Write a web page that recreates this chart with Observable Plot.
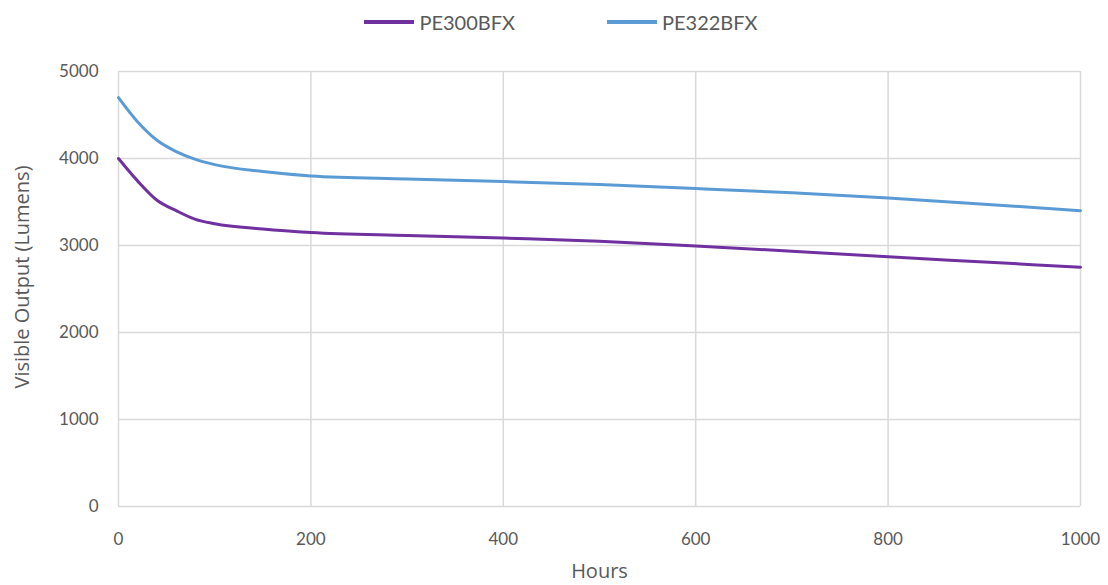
<!DOCTYPE html>
<html>
<head>
<meta charset="utf-8">
<script src="https://cdn.jsdelivr.net/npm/d3@7"></script>
<script src="https://cdn.jsdelivr.net/npm/@observablehq/plot@0.6"></script>
<style>
  html, body { margin: 0; padding: 0; background: #fff; }
  body { width: 1108px; height: 585px; overflow: hidden; font-family: Lato, "Open Sans", sans-serif; }
  #legend { height: 44px; display: flex; justify-content: center; align-items: center; color: #595959; font-size: 20px; padding-left: 14px; box-sizing: border-box; }
  .item { display: flex; align-items: center; margin: 0 46px; }
  .swatch { width: 50px; height: 4px; margin-right: 5px; }
  g[aria-label="x-axis label"] text, g[aria-label="y-axis label"] text { font-size: 20px; font-family: "Open Sans", sans-serif; }
</style>
</head>
<body>
<div id="legend"></div>
<div id="chart"></div>
<script>
const seriesNames = ["PE300BFX", "PE322BFX"];
const seriesColors = ["#7030a0", "#5b9bd5"];
const hours = [0, 20, 40, 60, 80, 100, 150, 200, 300, 400, 500, 600, 700, 800, 900, 1000];
const pe300 = [4000, 3740, 3520, 3400, 3300, 3250, 3190, 3150, 3115, 3085, 3050, 2995, 2935, 2870, 2810, 2750];
const pe322 = [4700, 4420, 4210, 4080, 3990, 3930, 3850, 3800, 3765, 3735, 3700, 3655, 3605, 3545, 3475, 3400];
const xTicks = [0, 200, 400, 600, 800, 1000];
const yTicks = [0, 1000, 2000, 3000, 4000, 5000];

const data = [];
hours.forEach((h, i) => {
  data.push({hours: h, value: pe300[i], series: seriesNames[0]});
  data.push({hours: h, value: pe322[i], series: seriesNames[1]});
});

const legend = document.getElementById("legend");
seriesNames.forEach((n, i) => {
  const it = document.createElement("div");
  it.className = "item";
  it.innerHTML = `<span class="swatch" style="background:${seriesColors[i]}"></span><span>${n}</span>`;
  legend.appendChild(it);
});

const fmt = d => String(d);

const chart = Plot.plot({
  width: 1108,
  height: 541,
  marginTop: 27,
  marginBottom: 79,
  marginLeft: 118,
  marginRight: 28,
  style: {fontFamily: "Lato, 'Open Sans', sans-serif", fontSize: "17px", color: "#595959", background: "#fff"},
  x: {domain: [0, 1000]},
  y: {domain: [0, 5000]},
  color: {domain: seriesNames, range: seriesColors},
  marks: [
    Plot.gridX(xTicks, {stroke: "#d9d9d9", strokeOpacity: 1, strokeWidth: 1.5}),
    Plot.gridY(yTicks, {stroke: "#d9d9d9", strokeOpacity: 1, strokeWidth: 1.5}),
    Plot.axisX(xTicks, {tickSize: 0, tickPadding: 26, fontSize: 17, fill: "#595959", tickFormat: fmt, label: "Hours", labelAnchor: "center", labelArrow: "none", labelOffset: 71}),
    Plot.axisY(yTicks, {tickSize: 0, tickPadding: 20, fontSize: 17, fill: "#595959", tickFormat: fmt, label: "Visible Output (Lumens)", labelAnchor: "center", labelArrow: "none", labelOffset: 104}),
    Plot.line(data, {x: "hours", y: "value", stroke: "series", z: "series", strokeWidth: 3, curve: "monotone-x"})
  ]
});
document.getElementById("chart").appendChild(chart);
const yl = chart.querySelector('g[aria-label="y-axis label"]');
if (yl) {
  const t = yl.getAttribute("transform") || "";
  yl.setAttribute("transform", (t + " translate(0,-12)").trim());
}
</script>
</body>
</html>
